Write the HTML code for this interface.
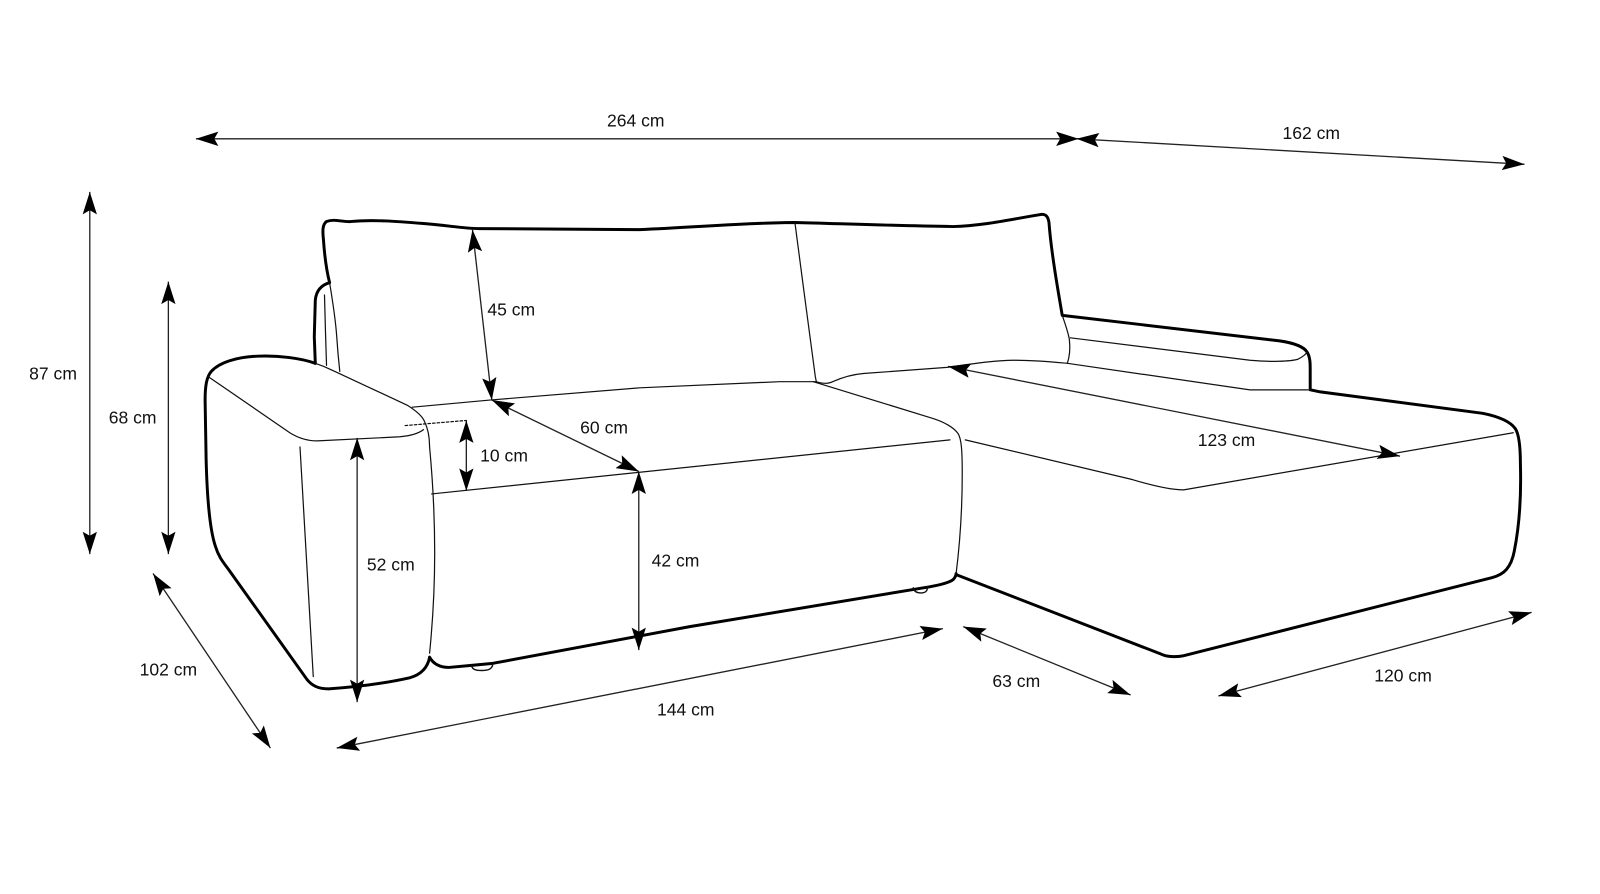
<!DOCTYPE html>
<html>
<head>
<meta charset="utf-8">
<style>
  html,body{margin:0;padding:0;background:#fff;}
  svg{display:block;}
  .thick{fill:none;stroke:#000;stroke-width:2.9;stroke-linecap:round;stroke-linejoin:round;}
  .thin{fill:none;stroke:#111;stroke-width:1.2;stroke-linecap:round;stroke-linejoin:round;}
  .dim{fill:none;stroke:#222;stroke-width:1.3;}
  text{font-family:"Liberation Sans",Arial,sans-serif;font-size:17.2px;fill:#111;text-anchor:middle;}
</style>
</head>
<body>
<svg width="1600" height="894" viewBox="0 0 1568 876" preserveAspectRatio="none" xmlns="http://www.w3.org/2000/svg">
  <defs>
    <marker id="ah" viewBox="0 0 22 14" refX="22" refY="7" markerWidth="22" markerHeight="14" markerUnits="userSpaceOnUse" orient="auto-start-reverse">
      <path d="M0,0 L22,7 L0,14 L4,7 Z" fill="#000"/>
    </marker>
  </defs>
  <rect width="1568" height="876" fill="#fff"/>

  <!-- ===== SOFA: thick outlines ===== -->
  <path class="thick" d="M323,277 C320,265 318,250 317,235 C316,226 316,220 320,217 C328,214 336,218 345,217 C365,215 390,217 415,219 C440,221 455,224 470,224 L627,225 C690,222 740,218 779,218 C820,219 870,221 934,222 C965,221 990,215 1021,210 C1025,210 1027,212 1028,218 C1030,245 1036,280 1041,309 L1254,334 C1268,336 1278,340 1281,345 C1284,350 1284,356 1284,362 L1284,382 L1294,384 L1453,405 C1468,408 1480,413 1485,420 C1489,426 1490,440 1490,455 C1491,490 1488,520 1484,540 C1481,556 1474,563 1462,566 L1162,642 C1155,644 1144,644 1138,641 L937,563"/>
  <path class="thick" d="M323,277 C316,279 310,284 309,294 L308,330 L309,356"/>
  <path class="thick" d="M309,356 C295,351 272,348 252,349 C232,350 215,355 207,364 C202,370 201,380 201,392 L202,450 C203,490 206,520 211,535 C214,545 218,550 224,558 L301,666 C306,672 312,675 322,675 C350,673 380,669 402,664 C412,661 419,655 421,644"/>
  <path class="thick" d="M421,644 C425,651 431,654 440,654 L462,652 L483,650 L676,614 L911,575 C922,573 930,571 934,568 C936,566 937,564 937,562"/>

  <!-- feet -->
  <path class="thin" style="stroke-width:1.4" d="M462,652 C463,656 466,657 472,657 C478,657 482,656 483,651"/>
  <path class="thin" style="stroke-width:1.4" d="M895,576 C896,580 899,581 902,581 C906,581 909,580 909,575"/>

  <!-- ===== SOFA: thin lines ===== -->
  <path class="thin" d="M323,277 C326,295 329,315 330,330 C331,345 332,355 333,364"/>
  <path class="thin" d="M318,289 L319,326 L320,358"/>
  <path class="thin" d="M204,369 L284,424 C292,429 300,432 311,432 L392,428 C402,427 410,425 415,421"/>
  <path class="thin" d="M309,356 C315,358 320,360 326,363 L399,397 C407,402 414,408 416,413 C419,419 421,428 421,438 C424,470 426,510 426,542 C426,580 424,610 421,640"/>
  <path class="thin" d="M294,438 L307,663"/>
  <path class="thin" style="stroke-dasharray:2.5 2" d="M397,417 L457,412"/>
  <path class="thin" d="M404,399 L480,392 L627,380 L764,374 L800,374"/>
  <path class="thin" d="M423,484 L931,431"/>
  <path class="thin" d="M797,374 L911,409 C925,413 935,419 939,425 C942,430 943,440 943,464 C943,500 941,530 937,562"/>
  <path class="thin" d="M800,374 C806,376 812,376 816,374 C825,370 835,367 846,366 L928,360 C950,357 975,353 993,353 C1015,353 1035,355 1046,356"/>
  <path class="thin" d="M779,218 L789,294 L799,369 L800,374"/>
  <path class="thin" d="M1041,309 C1044,318 1047,326 1048,333 C1049,342 1048,350 1046,356"/>
  <path class="thin" d="M1049,331 L1225,353 C1245,355 1265,354 1272,352 C1276,350 1279,348 1281,345"/>
  <path class="thin" d="M1046,356 L1225,382 L1284,382"/>
  <path class="thin" d="M946,431 L1110,470 C1130,476 1148,480 1160,480 L1483,424"/>

  <!-- ===== DIMENSION ARROWS ===== -->
  <line class="dim" x1="192" y1="136" x2="1057" y2="136" marker-start="url(#ah)" marker-end="url(#ah)"/>
  <line class="dim" x1="1055" y1="136" x2="1494" y2="161" marker-start="url(#ah)" marker-end="url(#ah)"/>
  <line class="dim" x1="88" y1="188" x2="88" y2="543" marker-start="url(#ah)" marker-end="url(#ah)"/>
  <line class="dim" x1="165" y1="276" x2="165" y2="543" marker-start="url(#ah)" marker-end="url(#ah)"/>
  <line class="dim" x1="150" y1="562" x2="265" y2="733" marker-start="url(#ah)" marker-end="url(#ah)"/>
  <line class="dim" x1="330" y1="733" x2="924" y2="616" marker-start="url(#ah)" marker-end="url(#ah)"/>
  <line class="dim" x1="944" y1="614" x2="1108" y2="681" marker-start="url(#ah)" marker-end="url(#ah)"/>
  <line class="dim" x1="1194" y1="682" x2="1501" y2="600" marker-start="url(#ah)" marker-end="url(#ah)"/>
  <line class="dim" x1="350" y1="429" x2="350" y2="688" marker-start="url(#ah)" marker-end="url(#ah)"/>
  <line class="dim" x1="626" y1="462" x2="626" y2="637" marker-start="url(#ah)" marker-end="url(#ah)"/>
  <line class="dim" x1="457" y1="412" x2="457" y2="481" marker-start="url(#ah)" marker-end="url(#ah)"/>
  <line class="dim" x1="463" y1="225" x2="482" y2="392" marker-start="url(#ah)" marker-end="url(#ah)"/>
  <line class="dim" x1="482" y1="392" x2="626" y2="462" marker-start="url(#ah)" marker-end="url(#ah)"/>
  <line class="dim" x1="929" y1="359" x2="1372" y2="447" marker-start="url(#ah)" marker-end="url(#ah)"/>

  <!-- ===== LABELS ===== -->
  <text x="623" y="124">264 cm</text>
  <text x="1285" y="136">162 cm</text>
  <text x="52" y="372">87 cm</text>
  <text x="130" y="415">68 cm</text>
  <text x="165" y="662">102 cm</text>
  <text x="501" y="309">45 cm</text>
  <text x="592" y="425">60 cm</text>
  <text x="494" y="452">10 cm</text>
  <text x="383" y="559">52 cm</text>
  <text x="662" y="555">42 cm</text>
  <text x="672" y="701">144 cm</text>
  <text x="996" y="673">63 cm</text>
  <text x="1202" y="437">123 cm</text>
  <text x="1375" y="668">120 cm</text>
</svg>
</body>
</html>
